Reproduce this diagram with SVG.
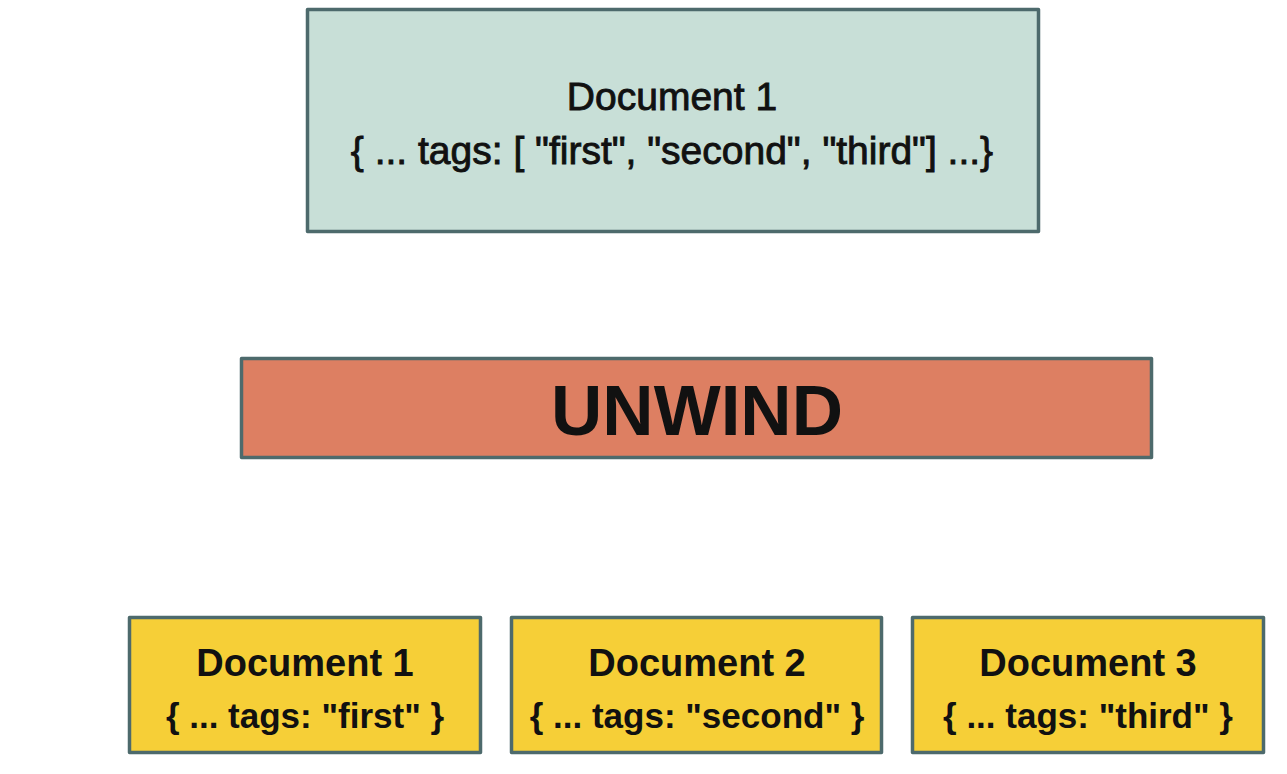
<svg xmlns="http://www.w3.org/2000/svg" width="1287" height="774" viewBox="0 0 1287 774">
<style>
.box{stroke:#4d6a6c;stroke-width:3.5;stroke-linejoin:round}
.t{font-family:"Liberation Sans",Arial,sans-serif;fill:#111;text-anchor:middle}
.top{font-size:39px;stroke:#111;stroke-width:0.9}
.b1{font-size:38px;font-weight:bold}
.b2{font-size:35px;font-weight:bold}
</style>
<rect width="1287" height="774" fill="#ffffff"/>
<g id="doc-source">
<rect class="box" x="307.5" y="9.5" width="731" height="222" fill="#c8dfd7"/>
<text class="t top" x="672" y="110">Document 1</text>
<text class="t top" x="672" y="164">{ ... tags: [ "first", "second", "third"] ...}</text>
</g>
<g id="unwind">
<rect class="box" x="241.5" y="358.5" width="910" height="99" fill="#dd7f62"/>
<text class="t" x="697" y="435" font-size="71" font-weight="bold">UNWIND</text>
</g>
<g id="doc-1">
<rect class="box" x="129.5" y="617.5" width="351" height="135" fill="#f6cf37"/>
<text class="t b1" x="305" y="676">Document 1</text>
<text class="t b2" x="305" y="728">{ ... tags: "first" }</text>
</g>
<g id="doc-2">
<rect class="box" x="511.5" y="617.5" width="370" height="135" fill="#f6cf37"/>
<text class="t b1" x="697" y="676">Document 2</text>
<text class="t b2" x="697" y="728">{ ... tags: "second" }</text>
</g>
<g id="doc-3">
<rect class="box" x="912.5" y="617.5" width="351" height="135" fill="#f6cf37"/>
<text class="t b1" x="1088" y="676">Document 3</text>
<text class="t b2" x="1088" y="728">{ ... tags: "third" }</text>
</g>
<g id="connectors"></g>
</svg>
